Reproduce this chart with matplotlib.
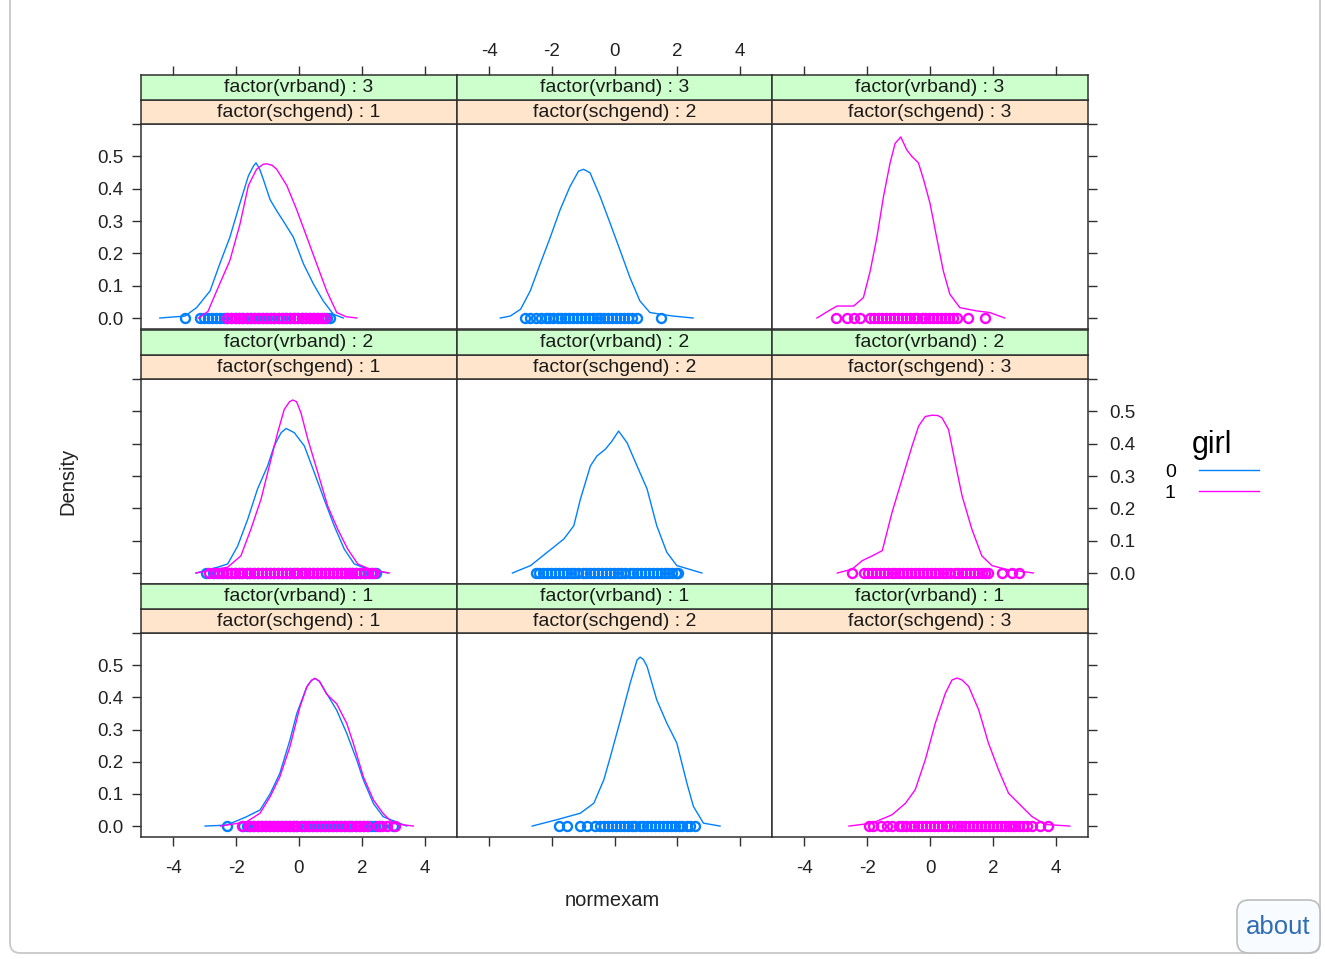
import numpy as np
import matplotlib
matplotlib.use("Agg")
import matplotlib.pyplot as plt
from matplotlib.lines import Line2D
from matplotlib.patches import FancyBboxPatch
from matplotlib.transforms import IdentityTransform

plt.rcParams['font.family'] = ['Liberation Sans', 'DejaVu Sans']

# ---- data (normexam density by vrband x schgend, grouped by girl)
# vrband 3 / schgend 1
b31_x = [-4.43, -3.63, -3.26, -2.83, -2.52, -2.2, -1.88, -1.61, -1.45, -1.37, -1.25, -1.14, -0.92, -0.7, -0.5, -0.18, 0.14, 0.46, 0.77, 1.09, 1.41]
b31_y = [0.0, 0.006, 0.032, 0.084, 0.168, 0.25, 0.355, 0.44, 0.47, 0.48, 0.46, 0.43, 0.366, 0.33, 0.30, 0.25, 0.168, 0.105, 0.053, 0.012, 0.0]
g31_x = [-3.2, -2.9, -2.62, -2.2, -1.88, -1.61, -1.35, -1.15, -1.03, -0.85, -0.71, -0.39, -0.07, 0.25, 0.56, 0.88, 1.2, 1.5, 1.84]
g31_y = [0.0, 0.02, 0.084, 0.178, 0.29, 0.41, 0.46, 0.475, 0.477, 0.472, 0.46, 0.41, 0.334, 0.25, 0.168, 0.084, 0.017, 0.004, 0.0]
pts_b31 = [-3.63, -3.15, -3.03, -2.9, -2.78, -2.65, -2.52, -2.4, -2.28, -2.15, -2.02, -1.9, -1.78, -1.65,
           -1.52, -1.4, -1.28, -1.15, -1.02, -0.9, -0.78, -0.65, -0.52, -0.4, -0.28, -0.15, -0.02, 0.1,
           0.22, 0.35, 0.48, 0.6, 0.75, 0.88, 0.99]
pts_g31 = [-2.3, -2.17, -2.04, -1.92, -1.8, -1.67, -1.55, -1.42, -1.3, -1.17, -1.05, -0.92, -0.8, -0.67,
           -0.55, -0.42, -0.3, -0.17, -0.05, 0.08, 0.2, 0.33, 0.45, 0.58, 0.7, 0.82]

# vrband 3 / schgend 2
b32_x = [-3.65, -3.33, -3.0, -2.69, -2.37, -2.05, -1.74, -1.42, -1.15, -0.99, -0.78, -0.46, -0.14, 0.18, 0.49, 0.81, 1.13, 1.45, 1.87, 2.51]
b32_y = [0.0, 0.006, 0.027, 0.084, 0.168, 0.25, 0.334, 0.407, 0.454, 0.46, 0.449, 0.376, 0.293, 0.209, 0.126, 0.053, 0.017, 0.012, 0.006, 0.0]
pts_b32 = [-2.85, -2.7, -2.5, -2.35, -2.2, -2.08, -1.95, -1.82, -1.7, -1.57, -1.45, -1.32, -1.2, -1.07,
           -0.95, -0.82, -0.7, -0.57, -0.45, -0.32, -0.2, -0.07, 0.05, 0.18, 0.3, 0.43, 0.57, 0.71, 1.5]

# vrband 3 / schgend 3
g33_x = [-3.6, -3.23, -2.96, -2.43, -2.12, -1.9, -1.69, -1.48, -1.27, -1.11, -0.93, -0.74, -0.58, -0.37, -0.21, 0.0, 0.21, 0.42, 0.63, 0.95, 1.48, 1.9, 2.38]
g33_y = [0.0, 0.022, 0.037, 0.037, 0.063, 0.147, 0.25, 0.376, 0.48, 0.54, 0.56, 0.52, 0.5, 0.48, 0.43, 0.355, 0.25, 0.147, 0.074, 0.032, 0.022, 0.017, 0.0]
pts_g33 = [-3.0, -2.65, -2.43, -2.22, -1.9, -1.78, -1.65, -1.52, -1.4, -1.27, -1.15, -1.02, -0.9, -0.77,
           -0.65, -0.52, -0.4, -0.27, -0.15, -0.02, 0.1, 0.23, 0.35, 0.48, 0.6, 0.73, 0.85, 1.22, 1.75]

# vrband 2 / schgend 1
b21_x = [-3.28, -2.59, -2.27, -1.95, -1.63, -1.32, -1.0, -0.79, -0.57, -0.41, -0.15, 0.17, 0.49, 0.8, 1.12, 1.44, 1.76, 2.19, 2.82]
b21_y = [0.0, 0.018, 0.028, 0.084, 0.167, 0.26, 0.331, 0.393, 0.434, 0.447, 0.434, 0.393, 0.31, 0.228, 0.146, 0.074, 0.028, 0.012, 0.0]
g21_x = [-3.28, -2.27, -1.85, -1.53, -1.21, -0.89, -0.68, -0.47, -0.3, -0.2, -0.08, 0.06, 0.28, 0.6, 0.91, 1.23, 1.55, 1.87, 2.3, 2.88]
g21_y = [0.0, 0.018, 0.053, 0.136, 0.228, 0.352, 0.434, 0.506, 0.53, 0.535, 0.53, 0.496, 0.414, 0.31, 0.208, 0.136, 0.074, 0.028, 0.01, 0.0]
pts_b21 = [-2.95, -2.75, -2.6, -2.45, -2.3, -2.17, -2.05, -1.92, -1.8, -1.67, -1.55, -1.42, -1.3, -1.17,
           -1.05, -0.92, -0.8, -0.67, -0.55, -0.42, -0.3, -0.17, -0.05, 0.08, 0.2, 0.33, 0.45, 0.58,
           0.7, 0.83, 0.95, 1.08, 1.2, 1.33, 1.45, 1.58, 1.7, 1.83, 1.95, 2.1, 2.28, 2.45]
pts_g21 = [-2.86, -2.7, -2.55, -2.42, -2.3, -2.17, -2.05, -1.92, -1.8, -1.67, -1.55, -1.42, -1.3, -1.17,
           -1.05, -0.92, -0.8, -0.67, -0.55, -0.42, -0.3, -0.17, -0.05, 0.08, 0.2, 0.33, 0.45, 0.58,
           0.7, 0.83, 0.95, 1.08, 1.2, 1.33, 1.45, 1.58, 1.7, 1.83, 1.95, 2.08, 2.2, 2.32, 2.4]

# vrband 2 / schgend 2
b22_x = [-3.26, -2.68, -2.15, -1.62, -1.3, -1.09, -0.77, -0.56, -0.29, -0.08, 0.13, 0.4, 0.72, 1.04, 1.35, 1.67, 1.99, 2.79]
b22_y = [0.0, 0.023, 0.064, 0.105, 0.146, 0.228, 0.331, 0.362, 0.383, 0.408, 0.439, 0.403, 0.331, 0.26, 0.146, 0.064, 0.023, 0.0]
pts_b22 = [-2.52, -2.4, -2.28, -2.15, -2.02, -1.9, -1.78, -1.65, -1.52, -1.4, -1.28, -1.15, -1.02, -0.9,
           -0.78, -0.65, -0.52, -0.4, -0.28, -0.15, -0.02, 0.1, 0.22, 0.35, 0.48, 0.6, 0.72, 0.85,
           0.98, 1.1, 1.22, 1.35, 1.48, 1.6, 1.72, 1.85, 1.95, 2.04]

# vrband 2 / schgend 3
g23_x = [-2.95, -2.48, -2.16, -1.84, -1.52, -1.21, -0.89, -0.57, -0.36, -0.15, 0.06, 0.25, 0.38, 0.59, 0.8, 1.02, 1.33, 1.65, 1.97, 2.39, 3.29]
g23_y = [0.0, 0.012, 0.038, 0.053, 0.069, 0.187, 0.29, 0.393, 0.455, 0.484, 0.488, 0.487, 0.48, 0.444, 0.342, 0.239, 0.136, 0.053, 0.023, 0.012, 0.0]
pts_g23 = [-2.48, -2.1, -1.98, -1.85, -1.72, -1.6, -1.48, -1.35, -1.22, -1.1, -0.98, -0.85, -0.72, -0.6,
           -0.48, -0.35, -0.22, -0.1, 0.02, 0.15, 0.28, 0.4, 0.52, 0.65, 0.78, 0.9, 1.02, 1.15,
           1.28, 1.4, 1.52, 1.65, 1.76, 1.86, 2.29, 2.6, 2.82]

# vrband 1 / schgend 1
b11_x = [-2.99, -2.3, -1.67, -1.24, -0.92, -0.61, -0.29, -0.07, 0.25, 0.4, 0.51, 0.65, 0.88, 1.2, 1.52, 1.84, 2.05, 2.37, 2.68, 3.43]
b11_y = [0.0, 0.003, 0.029, 0.05, 0.1, 0.164, 0.267, 0.35, 0.433, 0.453, 0.459, 0.45, 0.412, 0.36, 0.288, 0.205, 0.143, 0.07, 0.029, 0.0]
g11_x = [-2.5, -1.67, -1.24, -0.92, -0.61, -0.29, 0.03, 0.25, 0.4, 0.51, 0.65, 0.88, 1.2, 1.52, 1.73, 2.05, 2.37, 2.68, 3.0, 3.64]
g11_y = [0.0, 0.013, 0.04, 0.091, 0.153, 0.246, 0.37, 0.433, 0.453, 0.459, 0.45, 0.41, 0.38, 0.319, 0.257, 0.153, 0.081, 0.039, 0.008, 0.0]
pts_b11 = [-2.3, -1.77, -1.67, -1.55, -1.42, -1.3, -1.17, -1.05, -0.92, -0.8, -0.67, -0.55, -0.42, -0.3,
           -0.17, -0.05, 0.08, 0.2, 0.33, 0.45, 0.58, 0.7, 0.83, 0.95, 1.08, 1.2, 1.33, 1.45, 1.58,
           1.7, 1.83, 1.95, 2.08, 2.2, 2.3, 2.42, 2.58, 3.0]
pts_g11 = [-1.8, -1.6, -1.45, -1.3, -1.2, -1.08, -0.95, -0.83, -0.7, -0.58, -0.45, -0.33, -0.2, -0.08,
           0.05, 0.17, 0.3, 0.42, 0.55, 0.67, 0.8, 0.92, 1.05, 1.17, 1.3, 1.42, 1.55, 1.67, 1.8,
           1.92, 2.05, 2.15, 2.5, 2.65, 2.79, 3.05]

# vrband 1 / schgend 2
b12_x = [-2.63, -1.83, -1.09, -0.66, -0.34, -0.13, 0.19, 0.5, 0.72, 0.82, 0.92, 1.04, 1.35, 1.67, 1.99, 2.31, 2.52, 2.84, 3.37]
b12_y = [0.0, 0.02, 0.04, 0.071, 0.144, 0.216, 0.33, 0.444, 0.516, 0.525, 0.518, 0.496, 0.392, 0.32, 0.258, 0.134, 0.061, 0.009, 0.0]
pts_b12 = [-1.78, -1.51, -1.09, -0.88, -0.61, -0.45, -0.33, -0.2, -0.08, 0.05, 0.17, 0.3, 0.42, 0.55,
           0.67, 0.8, 0.92, 1.05, 1.17, 1.3, 1.42, 1.55, 1.67, 1.8, 1.92, 2.05, 2.17, 2.3, 2.41, 2.57]

# vrband 1 / schgend 3
g13_x = [-2.58, -1.84, -1.21, -0.78, -0.47, -0.15, 0.17, 0.49, 0.7, 0.86, 1.02, 1.23, 1.55, 1.86, 2.18, 2.5, 2.92, 3.24, 3.66, 4.45]
g13_y = [0.0, 0.009, 0.035, 0.071, 0.113, 0.206, 0.32, 0.413, 0.454, 0.46, 0.454, 0.434, 0.361, 0.258, 0.175, 0.102, 0.061, 0.03, 0.005, 0.0]
pts_g13 = [-1.95, -1.82, -1.55, -1.38, -1.2, -1.0, -0.88, -0.75, -0.62, -0.5, -0.38, -0.25, -0.12, 0.0,
           0.12, 0.25, 0.38, 0.5, 0.62, 0.75, 0.88, 1.0, 1.12, 1.25, 1.38, 1.5, 1.62, 1.75, 1.88,
           2.0, 2.12, 2.25, 2.38, 2.5, 2.62, 2.72, 2.82, 2.95, 3.1, 3.25, 3.5, 3.77]

x_ticks = [-4, -2, 0, 2, 4]
x_labels = ['-4', '-2', '0', '2', '4']
y_ticks = [0.0, 0.1, 0.2, 0.3, 0.4, 0.5, 0.6]
y_labels = ['0.0', '0.1', '0.2', '0.3', '0.4', '0.5', '']
group_labels = ['0', '1']

BLUE = '#0080ff'
MAGENTA = '#ff00ff'
GREEN_STRIP = '#ccffcc'
PEACH_STRIP = '#ffe5cc'
EDGE = '#303030'

# (row, col, vrband, schgend, [(curve_x, curve_y, points, colour), ...])
panels = [
    (0, 0, 3, 1, [(b31_x, b31_y, pts_b31, BLUE), (g31_x, g31_y, pts_g31, MAGENTA)]),
    (0, 1, 3, 2, [(b32_x, b32_y, pts_b32, BLUE)]),
    (0, 2, 3, 3, [(g33_x, g33_y, pts_g33, MAGENTA)]),
    (1, 0, 2, 1, [(b21_x, b21_y, pts_b21, BLUE), (g21_x, g21_y, pts_g21, MAGENTA)]),
    (1, 1, 2, 2, [(b22_x, b22_y, pts_b22, BLUE)]),
    (1, 2, 2, 3, [(g23_x, g23_y, pts_g23, MAGENTA)]),
    (2, 0, 1, 1, [(b11_x, b11_y, pts_b11, BLUE), (g11_x, g11_y, pts_g11, MAGENTA)]),
    (2, 1, 1, 2, [(b12_x, b12_y, pts_b12, BLUE)]),
    (2, 2, 1, 3, [(g13_x, g13_y, pts_g13, MAGENTA)]),
]

W, H = 1325, 959
fig = plt.figure(figsize=(W / 100, H / 100), dpi=100)

col_edges = [141, 457, 772, 1088]
panel_top = [124, 379, 633]
panel_bot = [329, 584, 837]
strip_h = 24.5


def box(left, top, right, bottom):
    return [left / W, 1 - bottom / H, (right - left) / W, (bottom - top) / H]


def style_frame(a):
    for s in a.spines.values():
        s.set_color(EDGE)
        s.set_linewidth(1.1)


tick_kw = dict(direction='out', length=6.5, width=1.0, color=EDGE,
               labelsize=13.5, labelcolor='#222222', pad=6)

for row, col, vr, sg, series in panels:
    l, r = col_edges[col], col_edges[col + 1]
    ax = fig.add_axes(box(l, panel_top[row], r, panel_bot[row]))
    for cx, cy, pts, colour in series:
        ax.plot(cx, cy, color=colour, lw=1.0)
        ax.plot(pts, np.zeros(len(pts)), 'o', mfc='none', mec=colour, ms=6.5, mew=1.7)
    ax.set_xlim(-5.03, 5.03)
    ax.set_ylim(-0.034, 0.60)
    ax.set_xticks(x_ticks, x_labels)
    ax.set_yticks(y_ticks, y_labels)
    ax.tick_params(**tick_kw)
    ax.tick_params(left=(col == 0), right=(col == 2), top=False, bottom=(row == 2),
                   labelleft=(col == 0 and row != 1), labelright=(col == 2 and row == 1),
                   labeltop=False, labelbottom=(row == 2 and col != 1))
    ax.tick_params(axis='x', pad=10)
    if col == 2:
        ax.yaxis.set_tick_params(pad=9)
    style_frame(ax)

    # strips: peach (schgend) right above the panel, green (vrband) above it
    top = panel_top[row]
    sp = fig.add_axes(box(l, top - strip_h, r, top), facecolor=PEACH_STRIP)
    sgr = fig.add_axes(box(l, top - 2 * strip_h, r, top - strip_h), facecolor=GREEN_STRIP)
    for s_ax, txt in ((sp, 'factor(schgend) : %d' % sg), (sgr, 'factor(vrband) : %d' % vr)):
        s_ax.set_xlim(-5.03, 5.03)
        s_ax.set_yticks([])
        s_ax.set_xticks(x_ticks, x_labels)
        s_ax.tick_params(**tick_kw)
        s_ax.tick_params(bottom=False, labelbottom=False, top=False, labeltop=False)
        s_ax.text(0.5, 0.47, txt, transform=s_ax.transAxes, ha='center', va='center',
                  fontsize=14, color='#1a1a1a')
        style_frame(s_ax)
    if row == 0:
        sgr.tick_params(top=True, labeltop=(col == 1), pad=4)

fig.text(612 / W, 1 - 900 / H, 'normexam', ha='center', va='center', fontsize=14.5, color='#222222')
fig.text(68 / W, 1 - 481 / H, 'Density', ha='center', va='center', rotation=90,
         fontsize=14.5, color='#222222')

handles = [Line2D([], [], color=BLUE, lw=1.0), Line2D([], [], color=MAGENTA, lw=1.0)]
fig.legend(handles, group_labels, title='girl', markerfirst=False, frameon=False,
           fontsize=14, title_fontsize=22, handlelength=3.1, handletextpad=1.2,
           labelspacing=0.18, loc='center', bbox_to_anchor=(1212 / W, 1 - 466 / H))

# page frame and the "about" button around the chart
frame = FancyBboxPatch((10, H - 953), 1310, 980, boxstyle='round,pad=0,rounding_size=10',
                       transform=IdentityTransform(), fill=False, ec='#c8c8c8', lw=1.3)
fig.add_artist(frame)
about = FancyBboxPatch((1237, H - 953), 83, 53, boxstyle='round,pad=0,rounding_size=12',
                       transform=IdentityTransform(), fc='#f8fbff', ec='#bdbdbd', lw=1.2)
fig.add_artist(about)
fig.text(1278 / W, 1 - 927 / H, 'about', ha='center', va='center', fontsize=18.5, color='#2f6db5')

fig.savefig('out.png', dpi=100)
